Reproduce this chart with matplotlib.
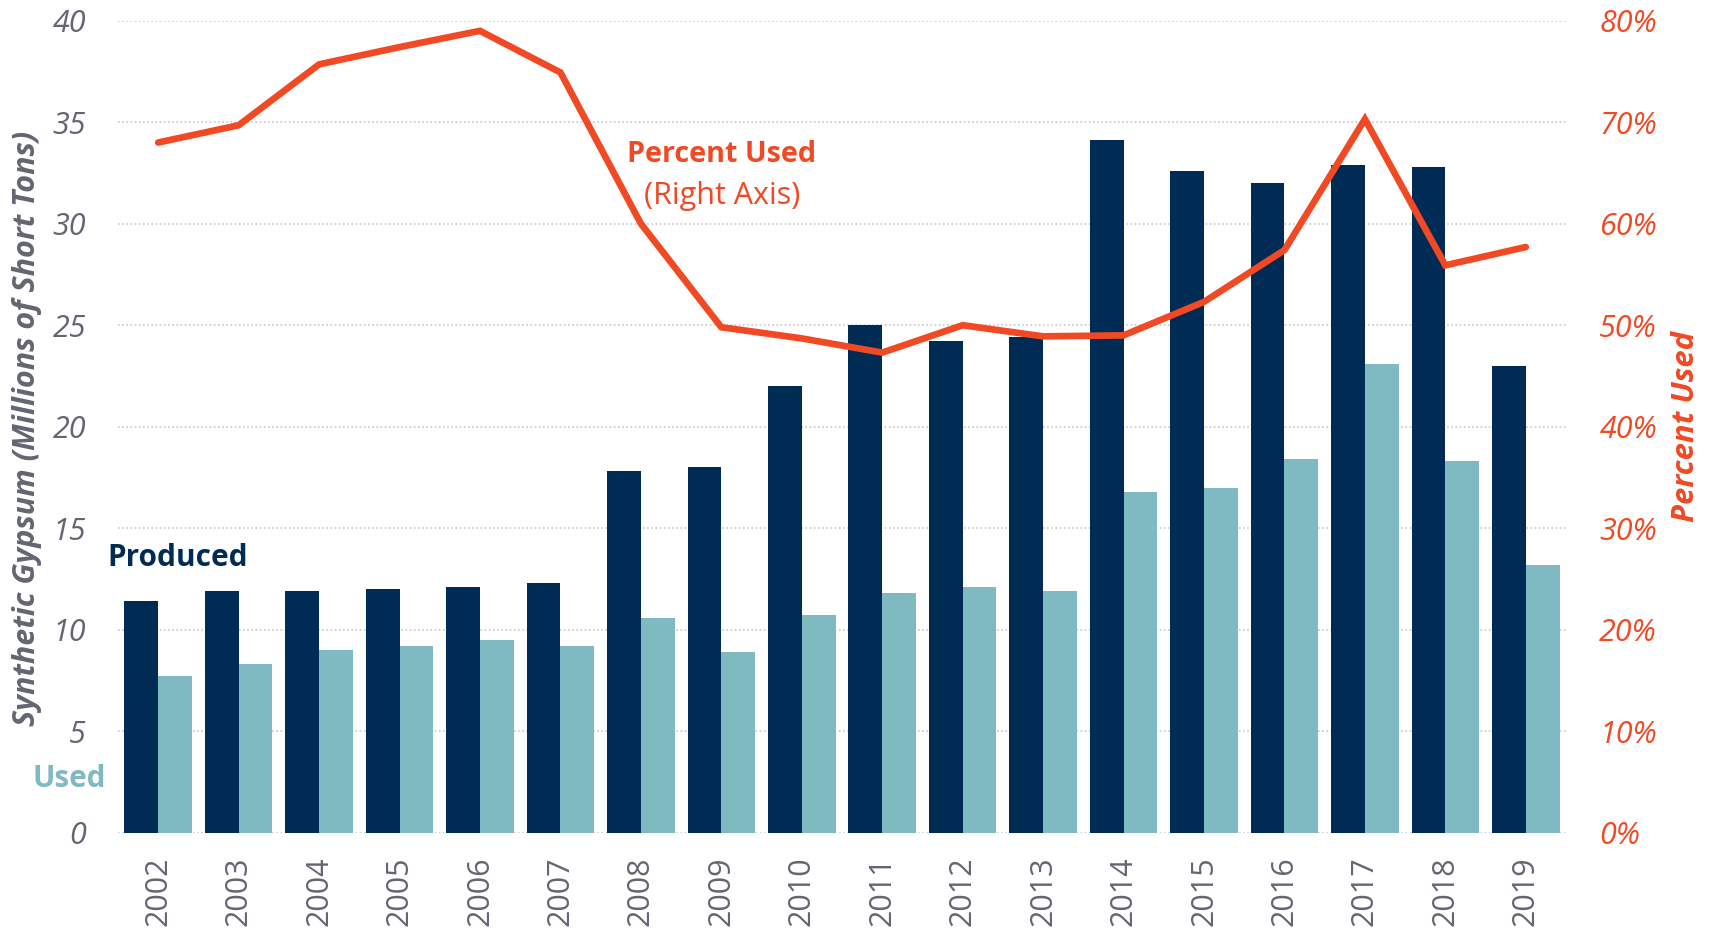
import matplotlib
matplotlib.use("Agg")
import matplotlib.pyplot as plt
import numpy as np
from matplotlib.ticker import FuncFormatter, MultipleLocator

years = [str(y) for y in range(2002, 2020)]
produced = [11.4, 11.9, 11.9, 12.0, 12.1, 12.3, 17.8, 18.0, 22.0, 25.0,
            24.2, 24.4, 34.1, 32.6, 32.0, 32.9, 32.8, 23.0]
used = [7.7, 8.3, 9.0, 9.2, 9.5, 9.2, 10.6, 8.9, 10.7, 11.8,
        12.1, 11.9, 16.8, 17.0, 18.4, 23.1, 18.3, 13.2]
pct_used = [68.0, 69.7, 75.7, 77.4, 79.0, 74.9, 60.0, 49.8, 48.7, 47.3,
            50.0, 48.9, 49.0, 52.3, 57.4, 70.3, 55.9, 57.7]

NAVY = "#002B55"
TEAL = "#7FBAC3"
ORANGE = "#F04923"
GRAY = "#646573"

plt.rcParams['font.family'] = ['Open Sans', 'DejaVu Sans']

W, H = 1711, 932
top_px, bot_px = 20.7, 832.7
fig = plt.figure(figsize=(W / 100, H / 100), dpi=100)
ax = fig.add_axes([118 / W, 1 - bot_px / H, (1566 - 118) / W, (bot_px - top_px) / H])

x = np.arange(len(years))
bw = 0.42
ax.bar(x - bw / 2, produced, width=bw, color=NAVY, zorder=3)
ax.bar(x + bw / 2, used, width=bw, color=TEAL, zorder=3)

ax.set_xlim(-0.5, len(years) - 0.5)
ax.set_ylim(0, 40)
ax.yaxis.set_major_locator(MultipleLocator(5))
ax.grid(axis='y', color='#C8C8C8', linestyle=(0, (1, 1.5)), linewidth=1.2, zorder=0)
for s in ax.spines.values():
    s.set_visible(False)
ax.tick_params(axis='both', length=0)
ax.tick_params(axis='y', pad=23)
ax.set_xticks(x)
ax.set_xticklabels(years, rotation=90, fontsize=22, color=GRAY)
ax.tick_params(axis='x', pad=17)
for lab in ax.get_yticklabels():
    lab.set_fontsize(22)
    lab.set_fontstyle('italic')
    lab.set_color(GRAY)

ax2 = ax.twinx()
ax2.plot(x, pct_used, color=ORANGE, linewidth=4.8, solid_capstyle='round',
         solid_joinstyle='miter', zorder=5)
ax2.set_ylim(0, 80)
ax2.yaxis.set_major_locator(MultipleLocator(10))
ax2.yaxis.set_major_formatter(FuncFormatter(lambda v, p: f"{int(v)}%"))
for s in ax2.spines.values():
    s.set_visible(False)
ax2.tick_params(axis='y', length=0, pad=24)
for lab in ax2.get_yticklabels():
    lab.set_fontsize(22)
    lab.set_fontstyle('italic')
    lab.set_color(ORANGE)

fig.text(27 / W, 1 - 428 / H, "Synthetic Gypsum (Millions of Short Tons)",
         rotation=90, ha='center', va='center', fontsize=22,
         fontweight='bold', fontstyle='italic', color=GRAY)
fig.text(1686 / W, 1 - 427 / H, "Percent Used", rotation=90, ha='center',
         va='center', fontsize=22.3, fontweight='bold', fontstyle='italic',
         color=ORANGE)

fig.text(722 / W, 1 - 154 / H, "Percent Used", ha='center', va='center',
         fontsize=20.7, fontweight='bold', color=ORANGE)
fig.text(722 / W, 1 - 196 / H, "(Right Axis)", ha='center', va='center',
         fontsize=22, color=ORANGE)
fig.text(107 / W, 1 - 558 / H, "Produced", ha='left', va='center',
         fontsize=21.4, fontweight='bold', color=NAVY)
fig.text(106 / W, 1 - 779 / H, "Used", ha='right', va='center',
         fontsize=21.3, fontweight='bold', color=TEAL)

fig.savefig("out.png", dpi=100)
